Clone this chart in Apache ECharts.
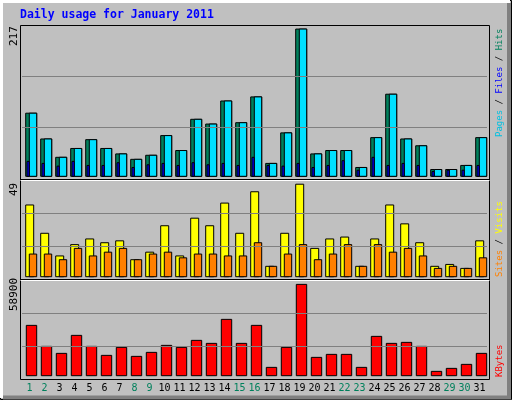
<!DOCTYPE html>
<html><head><meta charset="utf-8">
<script src="https://cdn.jsdelivr.net/npm/echarts@6/dist/echarts.min.js"></script>
<style>html,body{margin:0;padding:0;background:#c0c0c0}#c{width:512px;height:400px}</style>
</head><body><div id="c"></div>
<script>
const days = ['1','2','3','4','5','6','7','8','9','10','11','12','13','14','15','16','17','18','19','20','21','22','23','24','25','26','27','28','29','30','31'];
const weekend = [1,2,8,9,15,16,22,23,29,30];
const hits = [93,55,28,41,54,41,33,25,31,60,38,84,77,111,79,117,19,64,217,33,38,38,13,57,121,55,45,10,10,16,57];
const files = hits.slice();
const pages = [22,19,15,22,16,16,20,13,17,19,16,20,17,19,16,28,16,15,19,13,16,23,9,28,16,19,16,7,9,9,16];
const visits = [38,23,11,17,20,18,19,9,13,27,11,31,27,39,23,45,5.5,23,49,15,20,21,5.5,20,38,28,18,5.5,6.5,4.4,19];
const sites = [12,12,9,15,11,13,15,9,12,13,10,12,12,11,11,18,5.5,12,17,9,12,17,5.5,17,13,15,11,4.4,5.5,4.4,10];
const kbytes = [32465,18920,14405,26015,18920,13115,18275,12470,15050,19565,18275,22790,20855,36335,20855,32465,5375,18275,58900,11825,13760,13760,5375,25370,20855,21500,18920,2795,4730,7310,14405];
const maxLabels = ['217','49','58900'];

const chart = echarts.init(document.getElementById('c'));
function bars(name, data, gi, x0, x1, color){
  return {type:'custom', name, xAxisIndex:gi, yAxisIndex:gi, data:data.map((v,i)=>[i,v]),
    renderItem:(p,api)=>{
      const top=api.coord([api.value(0),api.value(1)]), base=api.coord([api.value(0),0]);
      return {type:'rect', shape:{x:top[0]+x0, y:top[1], width:x1-x0, height:base[1]-top[1]},
        style:{fill:color, stroke:'#000', lineWidth:1}};
    }};
}
function gridLines(gi, vals){
  return {type:'line', xAxisIndex:gi, yAxisIndex:gi, data:[], silent:true,
    markLine:{symbol:'none', silent:true, label:{show:false}, lineStyle:{color:'#808080', type:'solid', width:1},
      data:vals.map(v=>({yAxis:v}))}};
}
const grids=[{left:22,width:465,top:25,height:151.3},{left:22,width:465,top:181,height:95.7},{left:22,width:465,top:280.5,height:95.2}];
const ymax=[223,50.7,61400];
const xAxis=grids.map((g,i)=>({type:'category', gridIndex:i, data:days, axisLine:{show:false}, axisTick:{show:false},
  axisLabel:{show:i===2, margin:8, fontFamily:'DejaVu Sans Mono', fontSize:10, interval:0,
    color:(v)=>weekend.includes(+v)?'#00805c':'#000'}}));
const yAxis=grids.map((g,i)=>({type:'value', gridIndex:i, min:0, max:ymax[i], splitLine:{show:false}, axisLabel:{show:false}, axisLine:{show:false}, axisTick:{show:false}}));
const rt=(x,y,text,rich)=>({type:'text', x, y, rotation:Math.PI/2, style:{text, rich, textAlign:'left', textVerticalAlign:'middle', font:'9px DejaVu Sans Mono'}});
const mono={fontFamily:'DejaVu Sans Mono',fontSize:9};
chart.setOption({
  animation:false, backgroundColor:'#c0c0c0',
  grid:grids, xAxis, yAxis,
  graphic:[
    {type:'rect', shape:{x:0.5,y:0.5,width:511,height:399}, style:{fill:'none',stroke:'#000',lineWidth:1}, z:-10},
    {type:'polyline', shape:{points:[[1.5,398],[1.5,1.5],[510,1.5]]}, style:{stroke:'#fff',lineWidth:3,fill:null}, z:-9},
    {type:'polyline', shape:{points:[[509,3],[509,397.5],[3,397.5]]}, style:{stroke:'#808080',lineWidth:4,fill:null}, z:-9},
    {type:'rect', shape:{x:20.5,y:25.5,width:469,height:354}, style:{fill:'none',stroke:'#000',lineWidth:1}},
    {type:'line', shape:{x1:20.5,y1:179.5,x2:489.5,y2:179.5}, style:{stroke:'#000',lineWidth:1}},
    {type:'line', shape:{x1:20.5,y1:180.5,x2:489.5,y2:180.5}, style:{stroke:'#fff',lineWidth:1}},
    {type:'line', shape:{x1:20.5,y1:279.5,x2:489.5,y2:279.5}, style:{stroke:'#000',lineWidth:1}},
    {type:'line', shape:{x1:20.5,y1:280.5,x2:489.5,y2:280.5}, style:{stroke:'#fff',lineWidth:1}},
    {type:'text', x:20, y:15, style:{text:'Daily usage for January 2011', font:'bold 11.5px DejaVu Sans Mono', fill:'#0000ff', textVerticalAlign:'middle'}},
    {type:'text', x:14, y:46, rotation:Math.PI/2, style:{text:maxLabels[0], font:'11px DejaVu Sans Mono', fill:'#000', textAlign:'left', textVerticalAlign:'middle'}},
    {type:'text', x:14, y:196, rotation:Math.PI/2, style:{text:maxLabels[1], font:'11px DejaVu Sans Mono', fill:'#000', textAlign:'left', textVerticalAlign:'middle'}},
    {type:'text', x:14, y:311, rotation:Math.PI/2, style:{text:maxLabels[2], font:'11px DejaVu Sans Mono', fill:'#000', textAlign:'left', textVerticalAlign:'middle'}},
    rt(500,137,'{p|Pages}{k| / }{f|Files}{k| / }{h|Hits}',{p:{...mono,fill:'#00c0e0'},k:{...mono,fill:'#000'},f:{...mono,fill:'#0000ff'},h:{...mono,fill:'#00805c'}}),
    rt(500,277,'{s|Sites}{k| / }{v|Visits}',{s:{...mono,fill:'#ff8000'},k:{...mono,fill:'#000'},v:{...mono,fill:'#ffff00'}}),
    rt(500,377,'{r|KBytes}',{r:{...mono,fill:'#ff0000'}})
  ],
  series:[
    gridLines(0,[72.4,147.7]), gridLines(1,[16.1,33.6]), gridLines(2,[18960,40250]),
    bars('Hits',hits,0,-3.8,7.2,'#00805c'),
    bars('Files',files,0,-0.2,7.2,'#00e0ff'),
    bars('Pages',pages,0,-2.5,-0.3,'#0000ff'),
    bars('Visits',visits,1,-3.8,4.2,'#ffff00'),
    bars('Sites',sites,1,-0.2,7.2,'#ff8000'),
    bars('KBytes',kbytes,2,-3.2,7.2,'#ff0000')
  ]
});
</script></body></html>
